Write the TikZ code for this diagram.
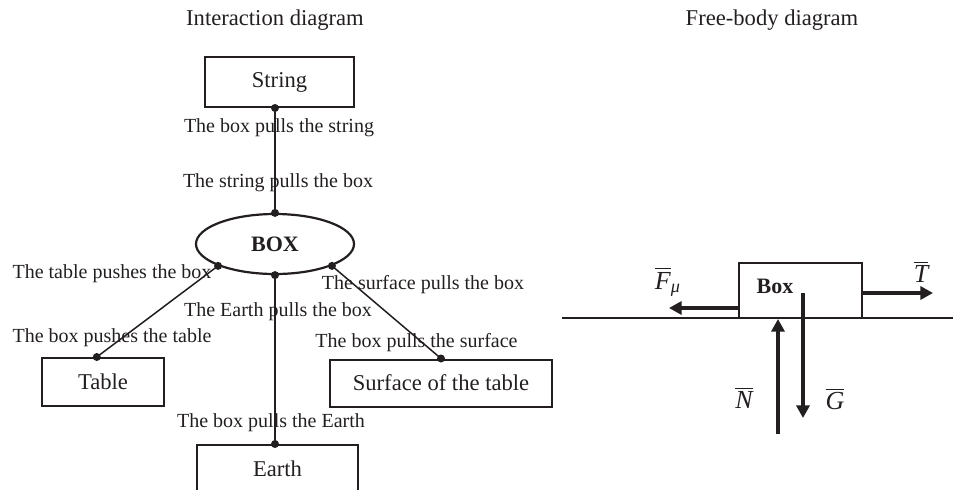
\documentclass[tikz,border=0pt]{standalone}
\usepackage{amsmath}
\usepackage{fontspec}
\setmainfont{Liberation Serif}
\usetikzlibrary{arrows.meta,shapes.geometric,calc}
\definecolor{ink}{RGB}{35,31,32}
\begin{document}
\begin{tikzpicture}[x=0.5pt,y=-0.5pt,
  every node/.style={text=ink,font=\fontsize{10}{12}\selectfont},
  titletext/.style={font=\fontsize{11.3}{13}\selectfont},
  entity/.style={draw=ink,line width=1pt,rectangle,inner sep=0pt,font=\fontsize{11.3}{13}\selectfont},
  link/.style={draw=ink,line width=0.75pt},
  force/.style={draw=ink,line width=1.75pt,-{Triangle[length=6.3pt,width=6.5pt]}},
  vec/.style={font=\fontsize{13}{15}\selectfont}]
\useasboundingbox (0,0) rectangle (953,489);
\clip (0,0) rectangle (953,489);
% titles
\node[titletext] (t1) at (275,20) {Interaction diagram};
\node[titletext] (t2) at (772,20) {Free-body diagram};
% interaction diagram
\node[entity, minimum width=74.5pt, minimum height=25pt] (string) at (279.5,82) {String};
\node[ellipse, draw=ink, line width=1.1pt, minimum width=79pt, minimum height=30pt, inner sep=0pt,
      font=\bfseries\fontsize{11}{13}\selectfont] (box) at (275,244) {BOX};
\node[entity, minimum width=61pt, minimum height=24pt] (table) at (103,382) {Table};
\node[entity, minimum width=111pt, minimum height=23.5pt] (surface) at (441,383) {Surface of the table};
\node[entity, minimum width=80.5pt, minimum height=24pt] (earth) at (277.5,469) {Earth};
\coordinate (sdot) at (string.south -| box.north);
\coordinate (tdot) at ($(table.north west)!0.45!(table.north east)$);
\coordinate (edot) at (earth.north -| box.south);
\draw[link] (sdot) -- (box.north);
\draw[link] (box.201) -- (tdot);
\draw[link] (box.339) -- (surface.north);
\draw[link] (box.south) -- (edot);
\foreach \p in {sdot,box.north,box.201,box.339,box.south,tdot,surface.north,edot}
  \fill[ink] (\p) circle[radius=2pt];
\node (l1) at (279,128) {The box pulls the string};
\node (l2) at (278,183) {The string pulls the box};
\node (l3) at (112,274) {The table pushes the box};
\node (l4) at (278,312) {The Earth pulls the box};
\node (l5) at (423,285) {The surface pulls the box};
\node (l6) at (112,338) {The box pushes the table};
\node (l7) at (416.5,343) {The box pulls the surface};
\node (l8) at (271,423) {The box pulls the Earth};
% free-body diagram
\coordinate (gl) at (562,318);
\coordinate (gr) at (953,318);
\draw[link] (gl) -- (gr);
\node[draw=ink,line width=1pt,minimum width=61.5pt,minimum height=27.5pt,inner sep=0pt] (fbox) at (800.5,290.5) {};
\node[font=\bfseries\fontsize{11}{13}\selectfont] (fbl) at (775,286) {Box};
\coordinate (tend) at (933,293);
\coordinate (fend) at (669,308);
\coordinate (nbot) at (778,434);
\coordinate (gtop) at (803,293);
\coordinate (gend) at (803,418);
\draw[force] (fbox.east |- tend) -- (tend);
\draw[force] (fbox.west |- fend) -- (fend);
\draw[force] (nbot) -- (nbot |- fbox.south);
\draw[force] (gtop) -- (gend);
\node[vec] (vT) at (921,272) {$\overline{\textit{T}}$};
\node[vec] (vF) at (668,282) {$\overline{\textit{F}}_{\text{\itshape μ}}$};
\node[vec] (vN) at (744,398) {$\overline{\textit{N}}$};
\node[vec] (vG) at (835,399) {$\overline{\textit{G}}$};
\end{tikzpicture}
\end{document}
